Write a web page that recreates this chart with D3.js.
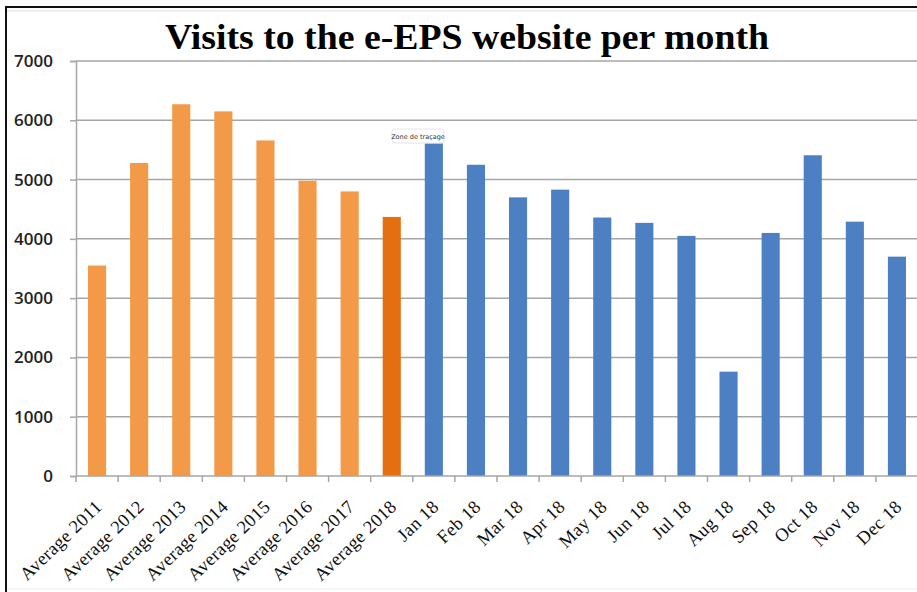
<!DOCTYPE html>
<html>
<head>
<meta charset="utf-8">
<script src="https://cdn.jsdelivr.net/npm/d3@7"></script>
<style>
  body { margin: 0; background: #fff; }
  svg { display: block; }
</style>
</head>
<body>
<div id="main"></div>
<script>
// data
var categories = ["Average 2011", "Average 2012", "Average 2013", "Average 2014", "Average 2015",
  "Average 2016", "Average 2017", "Average 2018", "Jan 18", "Feb 18", "Mar 18", "Apr 18",
  "May 18", "Jun 18", "Jul 18", "Aug 18", "Sep 18", "Oct 18", "Nov 18", "Dec 18"];
var visits = [3550, 5280, 6270, 6150, 5660, 4980, 4800, 4370, 5610, 5250, 4700, 4830,
  4360, 4270, 4050, 1760, 4100, 5410, 4290, 3700];
var kind = ["avg", "avg", "avg", "avg", "avg", "avg", "avg", "avgCur", "month", "month", "month", "month",
  "month", "month", "month", "month", "month", "month", "month", "month"];
var yTicks = [0, 1000, 2000, 3000, 4000, 5000, 6000, 7000];

var W = 917, H = 592;
var margin = { top: 61, right: -1, bottom: 116, left: 76 },
  width = W - margin.left - margin.right,
  height = H - margin.top - margin.bottom;

var root = d3.select('#main')
  .append("svg")
  .attr('width', W)
  .attr('height', H);

// screenshot frame
root.append("line").attr("x1", 6).attr("x2", W).attr("y1", 7).attr("y2", 7)
  .attr("stroke", "#111").attr("stroke-width", 2);
root.append("line").attr("x1", 6).attr("x2", 6).attr("y1", 6).attr("y2", H)
  .attr("stroke", "#111").attr("stroke-width", 2);
root.append("line").attr("x1", 7).attr("x2", W).attr("y1", 11).attr("y2", 11)
  .attr("stroke", "#ddd").attr("stroke-width", 1);
root.append("line").attr("x1", 7).attr("x2", W).attr("y1", 589).attr("y2", 589)
  .attr("stroke", "#eee").attr("stroke-width", 1);

root.append("text")
  .attr("x", 467)
  .attr("y", 49)
  .attr("text-anchor", "middle")
  .attr("textLength", 604)
  .attr("lengthAdjust", "spacingAndGlyphs")
  .style("font-family", "'Liberation Serif', serif")
  .style("font-weight", 700)
  .style("font-size", "36px")
  .attr("fill", "#000")
  .text("Visits to the e-EPS website per month");

var svg = root.append("g")
  .attr("transform", "translate(" + margin.left + "," + margin.top + ")");

var xScale = d3.scaleBand().range([0, width]).domain(categories);
var yScale = d3.scaleLinear().range([height, 0]).domain([0, 7000]);

var color = d3.scaleOrdinal()
  .domain(["avg", "avgCur", "month"])
  .range(["#f29a48", "#e56e10", "#4d80c2"]);

// gridlines
svg.selectAll(".grid")
  .data(yTicks.filter(d => d > 0))
  .enter().append("line")
  .attr("class", "grid")
  .attr("x1", 0).attr("x2", width)
  .attr("y1", d => yScale(d)).attr("y2", d => yScale(d))
  .attr("stroke", "#a6a6a6")
  .attr("stroke-width", 1.5);

// y axis
var yAxis = svg.append("g")
  .call(d3.axisLeft(yScale).tickValues(yTicks).tickSize(6).tickPadding(17).tickFormat(d3.format("d")));
yAxis.select(".domain").attr("stroke", "#a6a6a6").attr("stroke-width", 1.5);
yAxis.selectAll(".tick line").attr("stroke", "#a6a6a6").attr("stroke-width", 1.5);
yAxis.selectAll("text")
  .style("font-family", "'Open Sans', sans-serif")
  .style("font-weight", 600)
  .style("font-size", "17px")
  .attr("fill", "#222");

// bars
var bw = xScale.bandwidth();
svg.selectAll('.bar')
  .data(categories)
  .enter()
  .append('rect')
  .attr('class', 'bar')
  .attr('x', d => xScale(d) + bw * 0.285)
  .attr('y', (d, i) => yScale(visits[i]))
  .attr('width', bw * 0.43)
  .attr('height', (d, i) => height - yScale(visits[i]))
  .attr('fill', (d, i) => color(kind[i]));

// x axis: line with ticks at band boundaries
svg.append("line")
  .attr("x1", 0).attr("x2", width)
  .attr("y1", height).attr("y2", height)
  .attr("stroke", "#a6a6a6").attr("stroke-width", 1.5);

svg.selectAll(".xtick")
  .data(categories)
  .enter().append("line")
  .attr("class", "xtick")
  .attr("x1", d => xScale(d)).attr("x2", d => xScale(d))
  .attr("y1", height).attr("y2", height + 6)
  .attr("stroke", "#a6a6a6").attr("stroke-width", 1.5);

svg.selectAll(".xlabel")
  .data(categories)
  .enter().append("text")
  .attr("class", "xlabel")
  .attr("transform", d => "translate(" + (xScale(d) + bw / 2 + 6) + "," + (height + 32) + ")rotate(-44)")
  .attr("text-anchor", "end")
  .style("font-family", "'Liberation Serif', serif")
  .style("font-size", "18.5px")
  .style("letter-spacing", "0.3px")
  .attr("fill", "#111")
  .text(d => d);

// the "Zone de traçage" hover label seen in the screenshot
var tipG = root.append("g").attr("transform", "translate(392,129)");
tipG.append("rect")
  .attr("width", 52).attr("height", 14).attr("rx", 3)
  .attr("fill", "#fff").attr("stroke", "#e4e4e4");
tipG.append("text")
  .attr("x", 26).attr("y", 10)
  .attr("text-anchor", "middle")
  .style("font-family", "'DejaVu Sans', sans-serif")
  .style("font-size", "6.5px")
  .attr("fill", "#333")
  .text("Zone de traçage");
</script>
</body>
</html>
